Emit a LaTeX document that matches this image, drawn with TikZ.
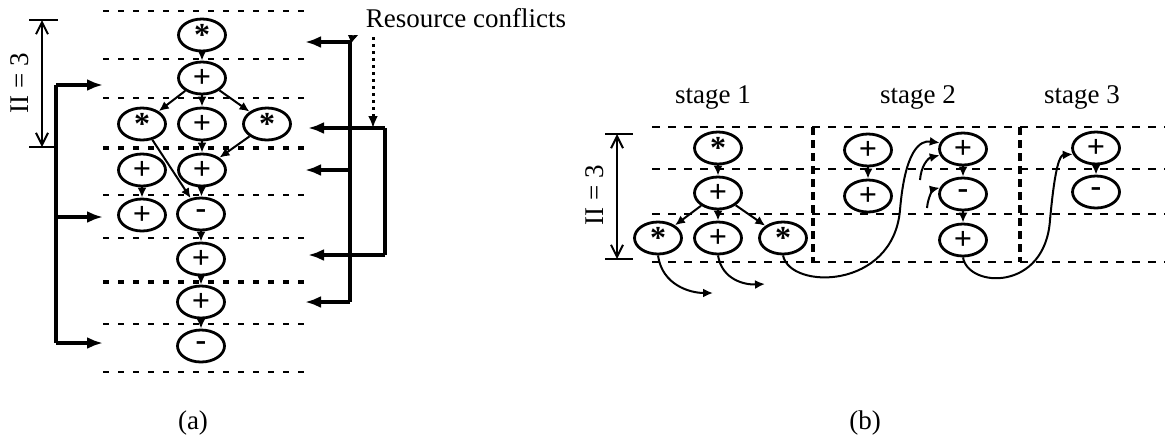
\documentclass[tikz,border=0pt]{standalone}
\usepackage{fontspec}
\setmainfont{Liberation Serif}
\usepackage{tikz}
\usetikzlibrary{shapes.geometric, arrows.meta, calc}

\tikzset{
  op/.style={draw, line width=1.4pt, ellipse, minimum width=23.5pt, minimum height=16pt,
    inner sep=0pt, font=\fontsize{16}{16}\selectfont\bfseries},
  edge/.style={line width=1pt, -{Latex[length=5pt,width=4.5pt]}},
  rowline/.style={line width=1.4pt, dash pattern=on 3pt off 4.5pt},
  stageline/.style={line width=1.1pt, dash pattern=on 4pt off 4pt},
  bracket/.style={line width=1.6pt},
  barrow/.style={line width=1.6pt, -{Latex[length=8pt,width=6pt]}},
  dimline/.style={line width=1pt, {Straight Barb[length=6pt,width=6pt]}-{Straight Barb[length=6pt,width=6pt]}}
}

\begin{document}
\begin{tikzpicture}[x=0.5pt, y=-0.5pt, font=\fontsize{13.5}{16}\selectfont]
  \useasboundingbox (0,0) rectangle (1165,440);

  % Diagram (a): schedule with resource conflicts
  \foreach \y in {11,59,98,195,238,324,372}
    \draw[rowline] (103,\y) -- (310,\y);
  \foreach \y in {148,282}
    \draw[rowline, line width=2.2pt] (103,\y) -- (310,\y);

  \node[op] (m1) at (202,35) {\raisebox{-0.35ex}{*}};
  \node[op] (a1) at (202,78) {+};
  \node[op] (m2) at (142,124) {\raisebox{-0.35ex}{*}};
  \node[op] (a2) at (202,124) {+};
  \node[op] (m3) at (267,124) {\raisebox{-0.35ex}{*}};
  \node[op] (a3) at (142,170) {+};
  \node[op] (a4) at (202,170) {+};
  \node[op] (a5) at (142,215) {+};
  \node[op] (s1) at (201,214) {-};
  \node[op] (a6) at (201,259) {+};
  \node[op] (a7) at (201,302) {+};
  \node[op] (s2) at (201,346) {-};

  \draw[edge] (m1) -- (a1);
  \draw[edge] (a1) -- (m2);
  \draw[edge] (a1) -- (a2);
  \draw[edge] (a1) -- (m3);
  \draw[edge] (a2) -- (a4);
  \draw[edge] (m3) -- (a4);
  \draw[edge] (m2) -- (s1);
  \draw[edge] (a3) -- (a5);
  \draw[edge] (a4) -- (s1);
  \draw[edge] (s1) -- (a6);
  \draw[edge] (a6) -- (a7);
  \draw[edge] (a7) -- (s2);

  % II marker and left bracket
  \draw[dimline] (42,20) -- (42,147);
  \draw[line width=1pt] (29,20) -- (58,20);
  \draw[line width=1pt] (29,147) -- (56,147);
  \node[rotate=90] (iia) at (20,83) {II = 3};
  \draw[bracket] (56,343) -- (56,85);
  \draw[barrow] (56,85) -- (103,85);
  \draw[barrow] (56,217) -- (103,217);
  \draw[barrow] (56,343) -- (103,343);

  % Right brackets
  \coordinate (r1) at (350,42);
  \coordinate (r2) at (385,128);
  \draw[bracket] (r1) -- (350,302);
  \draw[barrow] (r1) -- (305,42);
  \draw[barrow] (350,170) -- (305,170);
  \draw[barrow] (350,302) -- (305,302);
  \draw[barrow] (r2) -- (308,128);
  \draw[bracket] (r2) -- (385,255);
  \draw[barrow] (385,255) -- (308,255);

  \node (rc) at (466,18) {Resource conflicts};
  \draw[edge] (r1) .. controls (356,36) .. (rc.south west);
  \draw[line width=1.5pt, dotted, -{Latex[length=6pt,width=5pt]}] (373,37) -- (373,128);

  % Diagram (b): stages
  \foreach \y in {127,169,214,262}
    \draw[stageline] (652,\y) -- (1165,\y);
  \draw[stageline, line width=2pt, dash pattern=on 4pt off 2.5pt] (813,127) -- (813,263);
  \draw[stageline, line width=2pt, dash pattern=on 4pt off 2.5pt] (1020,127) -- (1020,262);

  \node (st1) at (713,97) {stage 1};
  \node (st2) at (918,97) {stage 2};
  \node (st3) at (1082,97) {stage 3};

  \draw[dimline] (617,134) -- (617,259);
  \draw[line width=1pt] (605,134) -- (633,134);
  \draw[line width=1pt] (605,259) -- (633,259);
  \node[rotate=90] (iib) at (595,195) {II = 3};

  \node[op] (bm1) at (718,148) {\raisebox{-0.35ex}{*}};
  \node[op] (bp1) at (718,193) {+};
  \node[op] (bm2) at (658,238) {\raisebox{-0.35ex}{*}};
  \node[op] (bp2) at (718,238) {+};
  \node[op] (bm3) at (783,238) {\raisebox{-0.35ex}{*}};
  \node[op] (bl1) at (868,150) {+};
  \node[op] (bl2) at (868,196) {+};
  \node[op] (bq1) at (963,149) {+};
  \node[op] (bq2) at (963,194) {-};
  \node[op] (bq3) at (963,240) {+};
  \node[op] (bt1) at (1096,148) {+};
  \node[op] (bt2) at (1096,192) {-};

  \draw[edge] (bm1) -- (bp1);
  \draw[edge] (bp1) -- (bm2);
  \draw[edge] (bp1) -- (bp2);
  \draw[edge] (bp1) -- (bm3);
  \draw[edge] (bl1) -- (bl2);
  \draw[edge] (bq1) -- (bq2);
  \draw[edge] (bq2) -- (bq3);
  \draw[edge] (bt1) -- (bt2);

  % Carried values
  \coordinate (o1) at (713,293);
  \coordinate (o2) at (765,284);
  \coordinate (i1) at (920,180);
  \coordinate (i2) at (927,208);
  \draw[edge] (bm2.south) .. controls (662,285) and (690,293) .. (o1);
  \draw[edge] (bp2.south) .. controls (722,280) and (745,285) .. (o2);
  \draw[edge] (bm3.south) .. controls (790,290) and (893,290) .. (900,210)
    .. controls (905,150) and (920,140) .. (bq1.165);
  \draw[edge] (i1) .. controls (921,166) and (928,158) .. (bq1.195);
  \draw[edge] (i2) .. controls (928,196) and (934,189) .. (bq2.165);
  \draw[edge] (bq3.south) .. controls (968,288) and (1045,292) .. (1050,220)
    .. controls (1055,165) and (1060,155) .. (bt1.195);

  \node (la) at (193,423) {(a)};
  \node (lb) at (865,423) {(b)};
\end{tikzpicture}
\end{document}
